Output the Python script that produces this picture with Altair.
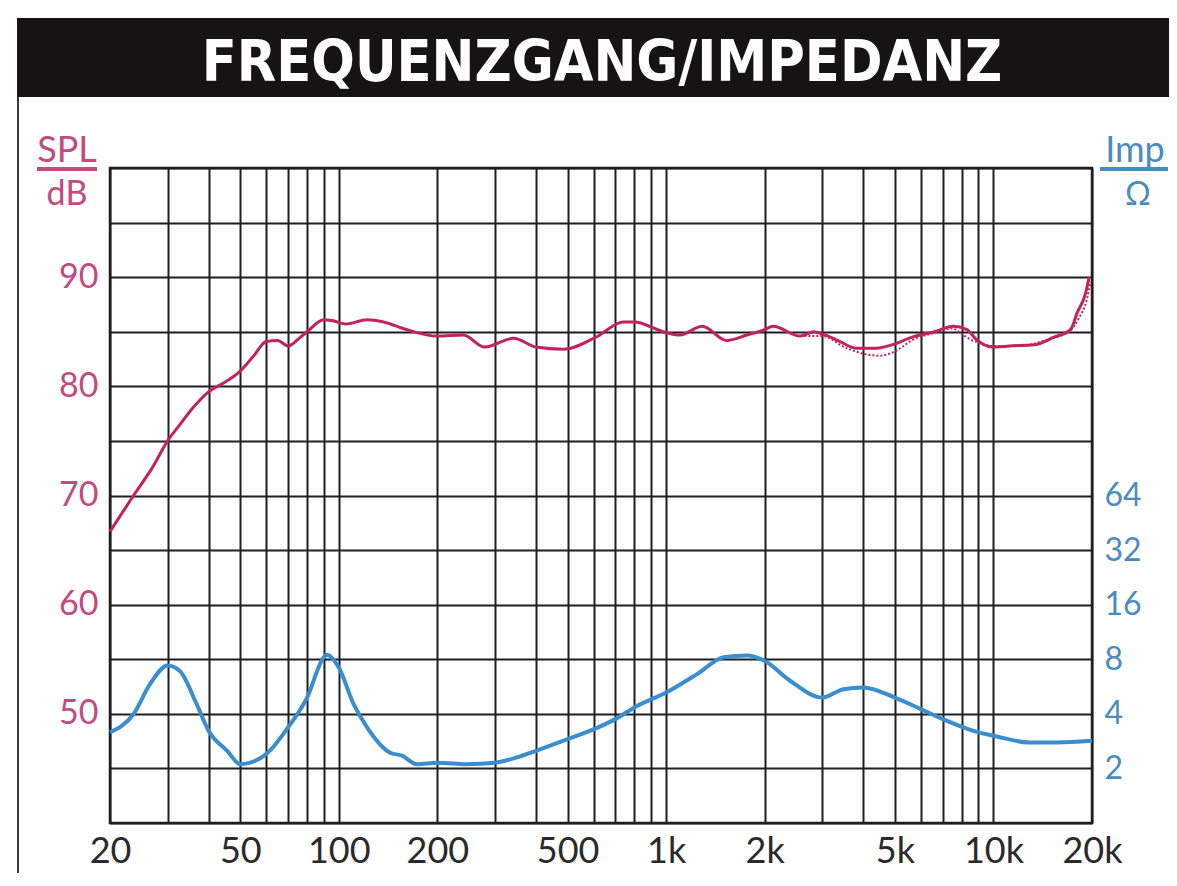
import altair as alt
import pandas as pd

# ---- data ----
spl_freq = [20, 23.6, 27, 30, 32.7, 36, 40, 45, 50, 55, 60, 65, 70, 75, 80, 90, 96, 105, 122, 137,
            161, 200, 240, 279, 342, 400, 486, 610, 740, 800, 980, 1100, 1290, 1530, 1765, 2000,
            2120, 2570, 2830, 3000, 3400, 3800, 4400, 4900, 5700, 6600, 7540, 8300, 8860, 9900,
            11200, 13300, 15300, 17200, 18000, 19100, 19600]
spl_db = [66.7, 70.0, 72.6, 75.0, 76.5, 78.1, 79.5, 80.4, 81.4, 82.8, 84.1, 84.2, 83.7, 84.3, 85.0,
          86.1, 86.0, 85.7, 86.1, 85.9, 85.2, 84.6, 84.7, 83.6, 84.4, 83.6, 83.4, 84.5, 85.9, 85.9,
          85.0, 84.7, 85.5, 84.2, 84.7, 85.2, 85.5, 84.6, 85.0, 84.8, 84.1, 83.5, 83.5, 83.8, 84.55,
          85.0, 85.5, 85.2, 84.3, 83.6, 83.7, 83.8, 84.5, 85.2, 86.7, 88.5, 90.0]

spl2_freq = [2500, 3000, 3500, 4000, 4500, 5000, 5700, 6600, 7500, 8000, 8500, 9000, 10000,
             12000, 15000, 17000, 18200, 19300, 19800]
spl2_db = [84.6, 84.6, 83.6, 83.0, 82.8, 83.2, 84.3, 84.9, 85.3, 84.8, 84.3, 84.0, 83.7,
           83.7, 84.4, 85.0, 86.2, 88.0, 89.6]

imp_freq = [20, 23.6, 26.5, 30, 32.7, 36.8, 40, 45.6, 50, 60, 70, 80, 90, 92, 100, 111, 122, 143,
            156, 173, 200, 246, 300, 350, 400, 500, 620, 700, 800, 1000, 1243, 1500, 1765, 2000,
            2390, 3000, 3480, 4000, 5000, 6000, 7000, 9000, 10000, 12900, 15600, 20000]
imp_ohm = [3.16, 3.99, 5.83, 7.4, 6.9, 4.52, 3.23, 2.50, 2.11, 2.40, 3.37, 4.92, 8.2, 8.46, 7.2,
           4.52, 3.37, 2.45, 2.35, 2.11, 2.15, 2.11, 2.15, 2.30, 2.50, 2.90, 3.37, 3.74, 4.34, 5.24,
           6.62, 8.2, 8.4, 7.85, 6.09, 4.92, 5.47, 5.59, 4.92, 4.25, 3.74, 3.16, 3.03, 2.78, 2.78, 2.84]

x_grid = [20, 30, 40, 50, 60, 70, 80, 90, 100, 200, 300, 400, 500, 600, 700, 800, 900, 1000,
          2000, 3000, 4000, 5000, 6000, 7000, 8000, 9000, 10000, 20000]
x_labels = [20, 50, 100, 200, 500, 1000, 2000, 5000, 10000, 20000]
y_grid = [40, 45, 50, 55, 60, 65, 70, 75, 80, 85, 90, 95, 100]
imp_ticks = [2, 4, 8, 16, 32, 64]

TITLE = "FREQUENZGANG/IMPEDANZ"

# ---- style ----
W, H = 982, 655
SPL_C = "#c2235c"
IMP_C = "#3a8dcf"
SPL_TXT = "#c24a7e"
IMP_TXT = "#4a8cbf"
GRID = "#1f1f1f"
FONT = "Lato, Roboto, sans-serif"
TITLE_FONT = "DejaVu Sans Condensed, Liberation Sans Narrow, Roboto, sans-serif"

spl_df = pd.DataFrame({"f": spl_freq, "db": spl_db})
spl2_df = pd.DataFrame({"f": spl2_freq, "db": spl2_db})
imp_df = pd.DataFrame({"f": imp_freq, "ohm": imp_ohm})
one = pd.DataFrame({"k": [0]})

xs = alt.Scale(type="log", domain=[20, 20000], nice=False)
ys = alt.Scale(domain=[40, 100], nice=False, zero=False)
imps = alt.Scale(type="log", base=2, domain=[1, 4096], nice=False)

label_cond = " || ".join(f"datum.value == {v}" for v in x_labels)
x_axis = alt.Axis(
    values=x_grid, grid=True, gridColor=GRID, gridWidth=2, gridOpacity=1,
    ticks=False, domain=False, title=None,
    labelExpr=f"({label_cond}) ? (datum.value >= 1000 ? (datum.value/1000) + 'k' : '' + datum.value) : ''",
    labelFont=FONT, labelFontSize=36, labelColor="#2a2a2a", labelPadding=11,
    labelOverlap=False, labelFlush=False,
)
y_axis = alt.Axis(
    values=y_grid, grid=True, gridColor=GRID, gridWidth=2, gridOpacity=1,
    ticks=False, domain=False, title=None,
    labelExpr="(datum.value % 10 == 0 && datum.value >= 50 && datum.value <= 90) ? datum.label : ''",
    labelFont=FONT, labelFontSize=34, labelColor=SPL_TXT, labelPadding=12,
    labelOverlap=False, labelFlush=False,
)
imp_axis = alt.Axis(
    orient="right", values=imp_ticks, grid=False, ticks=False, domain=False, title=None,
    labelExpr="'' + datum.value",
    labelFont=FONT, labelFontSize=32, labelColor=IMP_TXT, labelPadding=12,
    labelOverlap=False, labelFlush=False,
)

X = alt.X("f:Q", scale=xs, axis=x_axis)

spl_line = alt.Chart(spl_df).mark_line(
    color=SPL_C, strokeWidth=3, interpolate="monotone"
).encode(
    x=X,
    y=alt.Y("db:Q", scale=ys, axis=y_axis),
)
spl2_line = alt.Chart(spl2_df).mark_line(
    color=SPL_C, strokeWidth=2, strokeDash=[2, 2], interpolate="monotone"
).encode(
    x=X,
    y=alt.Y("db:Q", scale=ys, axis=None),
)
imp_line = alt.Chart(imp_df).mark_line(
    color=IMP_C, strokeWidth=4, interpolate="monotone"
).encode(
    x=X,
    y=alt.Y("ohm:Q", scale=imps, axis=imp_axis),
)

# ---- decorations: title bar, frame, unit labels ----
bar = alt.Chart(one).mark_rect(color="#161413").encode(
    x=alt.value(-93), x2=alt.value(1059), y=alt.value(-150), y2=alt.value(-71)
)
title = alt.Chart(one).mark_text(
    text=TITLE, font=TITLE_FONT, fontSize=57, fontWeight="bold",
    color="white", align="center", baseline="alphabetic"
).encode(x=alt.value(492), y=alt.value(-87))
frame = alt.Chart(one).mark_rule(color="#3a3a3a", strokeWidth=2).encode(
    x=alt.value(-92), y=alt.value(-71), y2=alt.value(712)
)
spl_t = alt.Chart(one).mark_text(
    text="SPL", font=FONT, fontSize=36, color=SPL_TXT, align="center", baseline="alphabetic"
).encode(x=alt.value(-43), y=alt.value(-6))
spl_u = alt.Chart(one).mark_rule(color=SPL_TXT, strokeWidth=4).encode(
    x=alt.value(-73), x2=alt.value(-13), y=alt.value(1)
)
db_t = alt.Chart(one).mark_text(
    text="dB", font=FONT, fontSize=34, color=SPL_TXT, align="center", baseline="alphabetic"
).encode(x=alt.value(-43), y=alt.value(37))
imp_t = alt.Chart(one).mark_text(
    text="Imp", font=FONT, fontSize=36, color=IMP_TXT, align="center", baseline="alphabetic"
).encode(x=alt.value(1025), y=alt.value(-6))
imp_u = alt.Chart(one).mark_rule(color=IMP_TXT, strokeWidth=4).encode(
    x=alt.value(990), x2=alt.value(1058), y=alt.value(1)
)
om_t = alt.Chart(one).mark_text(
    text="Ω", font=FONT, fontSize=32, color=IMP_TXT, align="center", baseline="alphabetic"
).encode(x=alt.value(1028), y=alt.value(37))

chart = alt.layer(
    spl_line, spl2_line, imp_line, bar, title, frame, spl_t, spl_u, db_t, imp_t, imp_u, om_t
).resolve_scale(
    y="independent"
).properties(
    width=W, height=H,
    padding={"left": 102, "top": 160, "right": 77, "bottom": 50},
    autosize=alt.AutoSizeParams(type="none"),
    background="white",
).configure_view(
    stroke=GRID, strokeWidth=2.5
)

chart.save("out.html", embed_options={"renderer": "svg", "actions": False})
